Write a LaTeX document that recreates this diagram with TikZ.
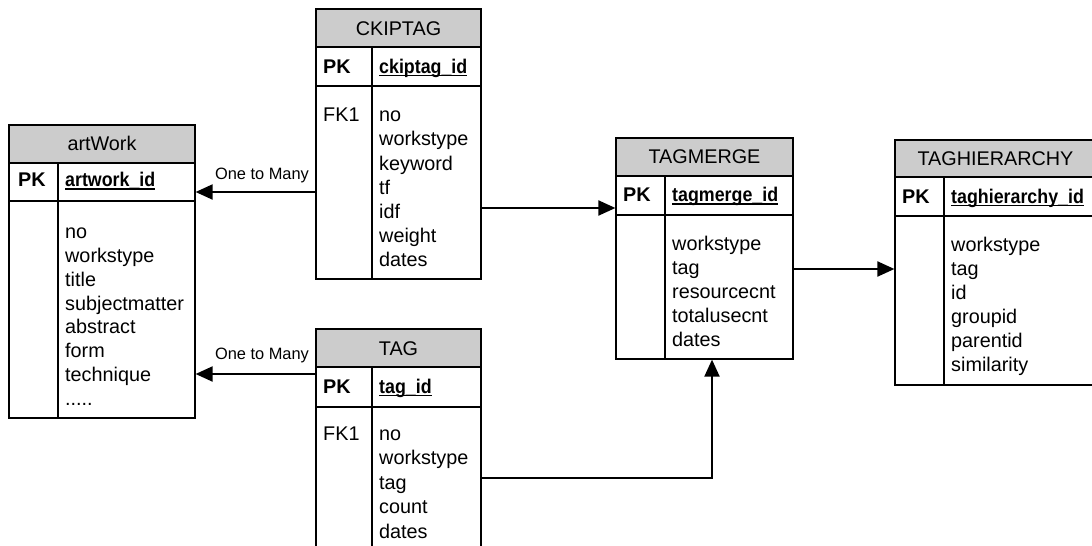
\documentclass[tikz,border=0pt]{standalone}
\usepackage{fontspec}
\setmainfont{Liberation Sans}
\newfontfamily\keyfont[FakeStretch=0.9]{Liberation Sans Bold}
\usetikzlibrary{arrows.meta,fit}

% underlined primary-key field name
\newcommand\keyline[1]{\setbox0\hbox{#1}\rlap{\rule[-3pt]{\wd0}{1.3pt}}\box0}
% trailing ellipsis row of the artWork field list
\newcommand\moredots{.....}

% entity box: name, left, top, right, bottom, header bottom, key-row bottom, column divider
\newcommand\erbox[8]{%
  \fill[hdrfill] (#2,#3) rectangle (#4,#6);
  \draw[rowrule] (#2,#6) -- (#4,#6) (#2,#7) -- (#4,#7) (#8,#6) -- (#8,#5);
  \node[frame, fit={(#2,#3) (#4,#5)}] (#1) {};
}

\definecolor{hdrgray}{RGB}{204,204,204}

\tikzset{
  hdrfill/.style={fill=hdrgray},
  rowrule/.style={line width=1.2pt, draw=black},
  frame/.style={draw=black, line width=1.2pt, inner sep=0pt},
  txt/.style={inner sep=0pt, font=\fontsize{19.8}{24}\selectfont},
  title/.style={txt, anchor=base},
  fld/.style={txt, anchor=base west},
  pk/.style={txt, anchor=base west, font=\fontsize{19.8}{24}\selectfont\bfseries},
  keyname/.style={txt, anchor=base west, font=\fontsize{19.8}{24}\keyfont},
  lbl/.style={inner sep=0pt, anchor=base, font=\fontsize{16.4}{19}\selectfont},
  arr/.style={line width=2pt, -{Triangle[length=17pt,width=15pt]}},
}

\begin{document}
\begin{tikzpicture}[x=1pt,y=-1pt]
  \fill[white] (0,0) rectangle (1092,546);
  \useasboundingbox (0,0) rectangle (1092,546);

  % ---- artWork ----
  \erbox{art}{9}{125}{195}{418}{163}{201}{58}
  \node[title] (art-h) at (102,150) {artWork};
  \node[pk] (art-pk) at (18,186.7) {PK};
  \node[keyname] (art-id) at (65,186.7) {\keyline{artwork\_id}};
  \foreach \t [count=\i] in {no,workstype,title,subjectmatter,abstract,form,technique,\moredots}
    \node[fld] (art-f\i) at (65,{238.3+(\i-1)*23.9}) {\t};

  % ---- CKIPTAG ----
  \erbox{ck}{316}{9}{481}{279}{47}{86}{372}
  \node[title] (ck-h) at (398.5,35) {CKIPTAG};
  \node[pk] (ck-pk) at (323,73.3) {PK};
  \node[keyname] (ck-id) at (379,73.3) {\keyline{ckiptag\_id}};
  \node[fld] (ck-fk) at (323,121.7) {FK1};
  \foreach \t [count=\i] in {no,workstype,keyword,tf,idf,weight,dates}
    \node[fld] (ck-f\i) at (379,{121.7+(\i-1)*24.2}) {\t};

  % ---- TAG ----
  \erbox{tag}{316}{329}{481}{570}{367}{407}{372}
  \node[title] (tag-h) at (398.5,355) {TAG};
  \node[pk] (tag-pk) at (323,393.3) {PK};
  \node[keyname] (tag-id) at (379,393.3) {\keyline{tag\_id}};
  \node[fld] (tag-fk) at (323,440) {FK1};
  \foreach \t [count=\i] in {no,workstype,tag,count,dates}
    \node[fld] (tag-f\i) at (379,{440+(\i-1)*24.5}) {\t};

  % ---- TAGMERGE ----
  \erbox{mrg}{616}{138}{793}{359}{176}{215}{665}
  \node[title] (mrg-h) at (704.5,163.3) {TAGMERGE};
  \node[pk] (mrg-pk) at (623,201.7) {PK};
  \node[keyname] (mrg-id) at (672,201.7) {\keyline{tagmerge\_id}};
  \foreach \t [count=\i] in {workstype,tag,resourcecnt,totalusecnt,dates}
    \node[fld] (mrg-f\i) at (672,{250+(\i-1)*24.2}) {\t};

  % ---- TAGHIERARCHY ----
  \erbox{hier}{895}{140}{1096}{385}{177}{216}{944}
  \node[title] (hier-h) at (995.5,165) {TAGHIERARCHY};
  \node[pk] (hier-pk) at (902,203.3) {PK};
  \node[keyname] (hier-id) at (951,203.3) {\keyline{taghierarchy\_id}};
  \foreach \t [count=\i] in {workstype,tag,id,groupid,parentid,similarity}
    \node[fld] (hier-f\i) at (951,{251.7+(\i-1)*24}) {\t};

  % ---- relationships ----
  \coordinate (lvl1) at (0,192);
  \coordinate (lvl2) at (0,374);
  \coordinate (lvl3) at (0,208);
  \coordinate (lvl4) at (0,269);
  \coordinate (bend) at (712,478);

  \draw[arr] (ck.west |- lvl1) -- (art.east |- lvl1);
  \node[lbl] (rel1) at (262,179) {One to Many};

  \draw[arr] (tag.west |- lvl2) -- (art.east |- lvl2);
  \node[lbl] (rel2) at (262,359.5) {One to Many};

  \draw[arr] (ck.east |- lvl3) -- (mrg.west |- lvl3);
  \draw[arr] (tag.east |- bend) -- (bend) -- (mrg.south -| bend);
  \draw[arr] (mrg.east |- lvl4) -- (hier.west |- lvl4);
\end{tikzpicture}
\end{document}
